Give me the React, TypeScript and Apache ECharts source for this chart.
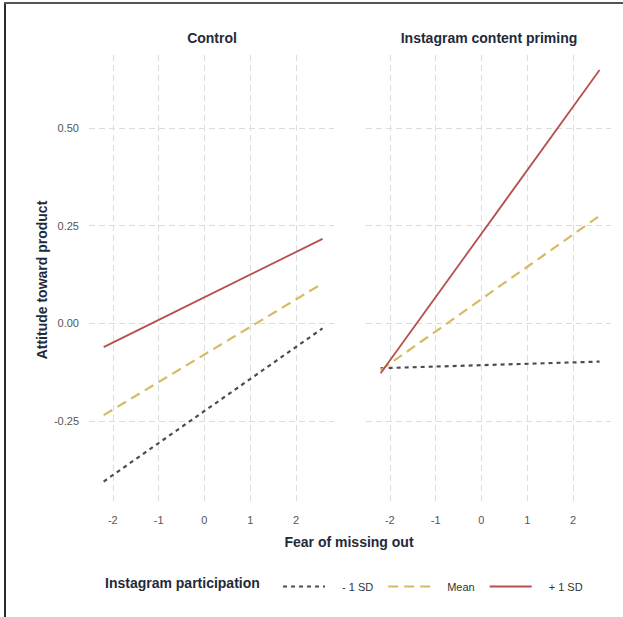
import React, { useEffect, useRef } from "react";
import * as echarts from "echarts";

const panels = ["Control", "Instagram content priming"];
const groups = ["- 1 SD", "Mean", "+ 1 SD"];
const fomo = [-2.2, 2.58];
const controlMinus = [-0.405, -0.013];
const controlMean = [-0.235, 0.102];
const controlPlus = [-0.061, 0.216];
const primingMinus = [-0.115, -0.098];
const primingMean = [-0.12, 0.275];
const primingPlus = [-0.128, 0.648];
const xTicks = [-2, -1, 0, 1, 2];
const yTicks = [-0.25, 0, 0.25, 0.5];

const FONT = "Liberation Sans, Arial, sans-serif";
const colors = ["#4d4d4d", "#d6bb63", "#b4504f"];
const dashes: any[] = [[4, 4], [10, 6], "solid"];
const widths = [2.2, 2.2, 1.8];

export default function App() {
  const ref = useRef<HTMLDivElement>(null);
  useEffect(() => {
    if (!ref.current) return;
    const chart = echarts.init(ref.current, null, { renderer: "svg" });
    const panelData = [
      [controlMinus, controlMean, controlPlus],
      [primingMinus, primingMean, primingPlus],
    ];
    const series: any[] = [];
    panelData.forEach((sets, p) => {
      sets.forEach((vals, g) => {
        series.push({
          type: "line",
          name: groups[g],
          xAxisIndex: p,
          yAxisIndex: p,
          data: fomo.map((x, i) => [x, vals[i]]),
          showSymbol: false,
          symbol: "none",
          color: colors[g],
          lineStyle: { color: colors[g], width: widths[g], type: dashes[g] },
          z: 3 + g,
        });
      });
    });
    const gridLine = { show: true, lineStyle: { color: "#dcdcdc", type: [6, 4], width: 1 } };
    const xAxis = [0, 1].map((i) => ({
      type: "value",
      gridIndex: i,
      min: -2.52,
      max: 2.83,
      axisLine: { show: false },
      axisTick: { show: false, customValues: xTicks },
      axisLabel: {
        customValues: xTicks,
        color: "#555555",
        fontSize: 11,
        fontFamily: FONT,
        margin: 9,
      },
      splitLine: gridLine,
    }));
    const yAxis = [0, 1].map((i) => ({
      type: "value",
      gridIndex: i,
      min: -0.465,
      max: 0.6865,
      axisLine: { show: false },
      axisTick: { show: false, customValues: yTicks },
      axisLabel: {
        show: i === 0,
        customValues: yTicks,
        color: "#555555",
        fontSize: 11,
        fontFamily: FONT,
        margin: 10,
        formatter: (v: number) => v.toFixed(2),
      },
      splitLine: gridLine,
      name: i === 0 ? "Attitude toward product" : "",
      nameLocation: "middle",
      nameGap: 40,
      nameRotate: 90,
      nameTextStyle: { color: "#1f2a3a", fontSize: 14, fontWeight: "bold", fontFamily: FONT },
    }));
    chart.setOption({
      animation: false,
      backgroundColor: "#ffffff",
      grid: [
        { left: 89, top: 55, width: 245, height: 450 },
        { left: 366, top: 55, width: 245, height: 450 },
      ],
      xAxis,
      yAxis,
      series,
      legend: {
        data: groups,
        left: 277,
        top: 576,
        itemWidth: 42,
        itemHeight: 14,
        itemGap: 14,
        itemStyle: { opacity: 0 },
        textStyle: { color: "#333", fontSize: 11, fontFamily: FONT, padding: [0, 0, 0, 12] },
        selectedMode: false,
      },
      graphic: [
        {
          type: "text",
          x: 212,
          y: 31,
          style: { text: panels[0], font: `bold 14px ${FONT}`, fill: "#1f2a3a", textAlign: "center" },
        },
        {
          type: "text",
          x: 489,
          y: 31,
          style: { text: panels[1], font: `bold 14px ${FONT}`, fill: "#1f2a3a", textAlign: "center" },
        },
        {
          type: "text",
          x: 349,
          y: 535,
          style: { text: "Fear of missing out", font: `bold 14px ${FONT}`, fill: "#1f2a3a", textAlign: "center" },
        },
        {
          type: "text",
          x: 105,
          y: 576,
          style: { text: "Instagram participation", font: `bold 14px ${FONT}`, fill: "#1f2a3a" },
        },
        {
          type: "line",
          shape: { x1: 5, y1: 3, x2: 5, y2: 617 },
          style: { stroke: "#2a2a2a", lineWidth: 2 },
        },
        {
          type: "line",
          shape: { x1: 4, y1: 3, x2: 623, y2: 3 },
          style: { stroke: "#555555", lineWidth: 2 },
        },
      ],
    });
    return () => chart.dispose();
  }, []);
  return (
    <div
      ref={ref}
      style={{ position: "absolute", left: 0, top: 0, width: 623, height: 617 }}
    />
  );
}
